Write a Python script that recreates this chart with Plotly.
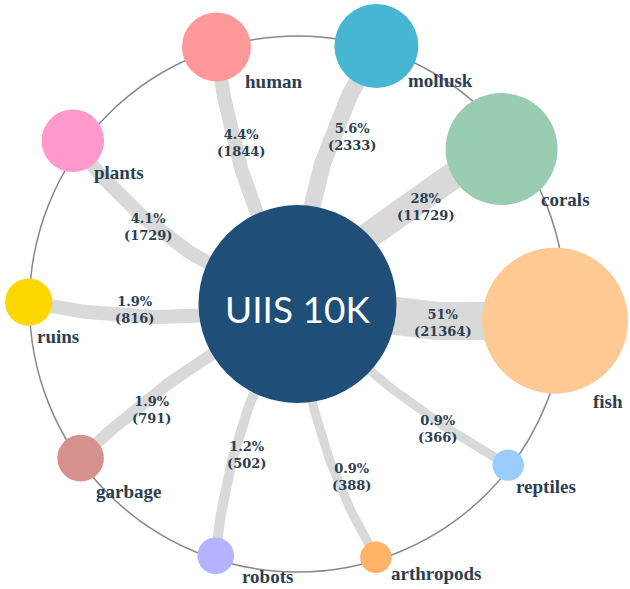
import numpy as np
import plotly.graph_objects as go

# ---------------- data ----------------
center_label = "UIIS 10K"
categories = ["human", "mollusk", "corals", "fish", "reptiles",
              "arthropods", "robots", "garbage", "ruins", "plants"]
counts = [1844, 2333, 11729, 21364, 366, 388, 502, 791, 816, 1729]

# ---------------- layout / style ----------------
node_angle = [107.5, 73.0, 37.2, -3.7, -37.4, -72.8, -108.0, -144.6, 179.6, 144.0]
node_dist = [269.5, 269.8, 256.2, 258.0, 265.2, 265.2, 264.7, 266.1, 268.8, 277.7]
node_radius = [34.5, 42, 56, 73, 15.7, 15.8, 18.3, 23.3, 23.7, 31.3]
node_colors = ["#FF9999", "#46B6D2", "#98CDB2", "#FFC994", "#99CCFF",
               "#FFB366", "#B3B3FF", "#D6918C", "#FFD700", "#FF99CC"]
edge_width = [14, 17, 27, 38, 9, 9, 10, 12, 14, 14]
edge_bow = [13, 17, 12, -8, -10, -16, -15, -10, 14, 22]     # + = left of travel from centre
label_along = [0.633, 0.649, 0.628, 0.567, 0.707, 0.684, 0.604, 0.677, 0.605, 0.599]
label_perp = [5.2, -3.0, -0.3, -9.7, -14.1, 0.8, -2.2, 2.0, 7.0, 25.4]
name_dx = [26.8, 30, 37.6, 36, 5.7, 13.3, 24.3, 13.6, 6.3, 19]
name_dy = [34.5, 35, 50.7, 81, 21.7, 16, 21, 33.4, 34.4, 31.7]

W, H = 630, 589
CX, CY, CR = 297.5, 304.0, 99.0
RING_R = 268
CENTER_COLOR = "#1F4E79"
EDGE_COLOR = "#D9D9D9"
TEXT_COLOR = "#2C3E50"

total = sum(counts)

def pct_text(c):
    p = 100.0 * c / total
    return f"{p:.0f}%" if p >= 10 else f"{p:.1f}%"

fig = go.Figure()

# node positions
nx, ny = [], []
for a, d in zip(node_angle, node_dist):
    r = np.deg2rad(a)
    nx.append(CX + d * np.cos(r))
    ny.append(CY - d * np.sin(r))

# edges
t = np.linspace(0, 1, 80)
annotations = []
for i, cat in enumerate(categories):
    dx, dy = nx[i] - CX, ny[i] - CY
    L = np.hypot(dx, dy)
    ux, uy = dx / L, dy / L
    lx, ly = uy, -ux
    mx, my = CX + dx / 2, CY + dy / 2
    qx, qy = mx + 2 * edge_bow[i] * lx, my + 2 * edge_bow[i] * ly
    bx = (1 - t) ** 2 * CX + 2 * (1 - t) * t * qx + t ** 2 * nx[i]
    by = (1 - t) ** 2 * CY + 2 * (1 - t) * t * qy + t ** 2 * ny[i]
    fig.add_trace(go.Scatter(x=bx, y=by, mode="lines",
                             line=dict(color=EDGE_COLOR, width=edge_width[i]),
                             hoverinfo="skip", showlegend=False))
    px = CX + label_along[i] * dx + label_perp[i] * lx
    py = CY + label_along[i] * dy + label_perp[i] * ly
    annotations.append(dict(x=px, y=py, xref="x", yref="y", showarrow=False,
                            text=f"<b>{pct_text(counts[i])}<br>({counts[i]})</b>",
                            font=dict(family="DejaVu Serif", size=13, color=TEXT_COLOR),
                            xanchor="center", yanchor="middle", align="center"))
    annotations.append(dict(x=nx[i] + name_dx[i], y=ny[i] + name_dy[i], xref="x", yref="y",
                            showarrow=False, text=f"<b>{cat}</b>",
                            font=dict(family="Liberation Serif", size=19, color=TEXT_COLOR),
                            xanchor="left", yanchor="middle"))

# category nodes
fig.add_trace(go.Scatter(x=nx, y=ny, mode="markers",
                         marker=dict(size=[2 * r for r in node_radius], color=node_colors,
                                     line=dict(width=0), opacity=1),
                         hoverinfo="skip", showlegend=False))
# centre node
fig.add_trace(go.Scatter(x=[CX], y=[CY], mode="markers",
                         marker=dict(size=2 * CR, color=CENTER_COLOR, line=dict(width=0)),
                         hoverinfo="skip", showlegend=False))
annotations.append(dict(x=CX, y=CY + 4, xref="x", yref="y", showarrow=False,
                        text=center_label,
                        font=dict(family="Lato", size=37, color="white"),
                        xanchor="center", yanchor="middle"))

fig.update_layout(
    width=W, height=H,
    margin=dict(l=0, r=0, t=0, b=0),
    paper_bgcolor="white", plot_bgcolor="white",
    xaxis=dict(range=[0, W], visible=False, fixedrange=True),
    yaxis=dict(range=[H, 0], visible=False, fixedrange=True),
    shapes=[dict(type="circle", xref="x", yref="y", layer="below",
                 x0=CX - RING_R, x1=CX + RING_R, y0=CY - RING_R, y1=CY + RING_R,
                 line=dict(color="#888888", width=1.5))],
    annotations=annotations,
)

fig.write_html("out.html", config={"displayModeBar": False},
               post_script="document.body.style.margin='0';document.body.style.overflow='hidden';")
